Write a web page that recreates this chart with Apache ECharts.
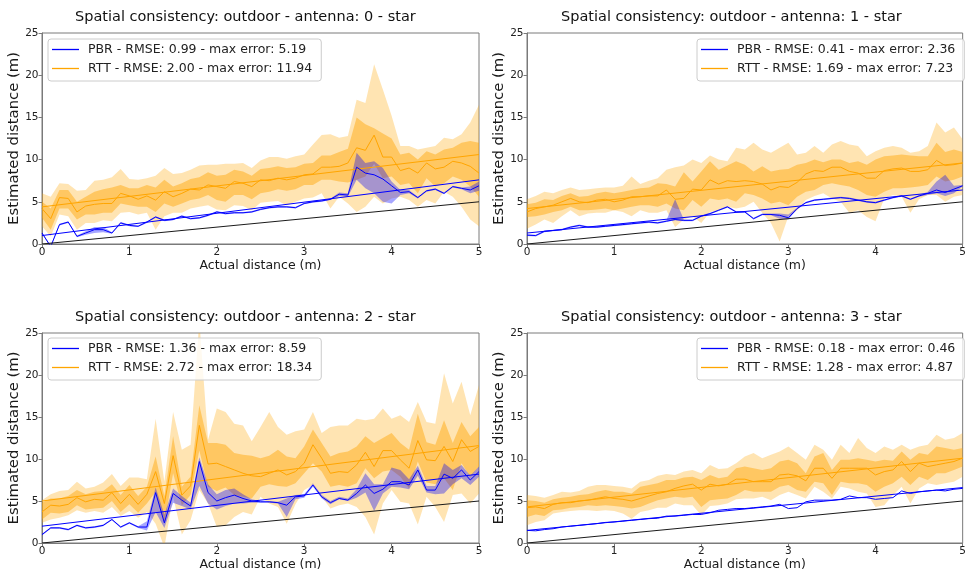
<!DOCTYPE html>
<html>
<head>
<meta charset="utf-8">
<title>Spatial consistency: outdoor - star</title>
<script src="https://cdn.jsdelivr.net/npm/echarts@6/dist/echarts.min.js"></script>
<style>
  html, body { margin: 0; padding: 0; background: #ffffff; }
  #chart { width: 969px; height: 575px; }
</style>
</head>
<body>
<div id="chart"></div>
<script>
// Actual distance of every measurement position (m)
const distances = [0, 0.1, 0.2, 0.3, 0.4, 0.5, 0.6, 0.7, 0.8, 0.9, 1.0, 1.1, 1.2, 1.3, 1.4, 1.5, 1.6, 1.7, 1.8, 1.9,
  2.0, 2.1, 2.2, 2.3, 2.4, 2.5, 2.6, 2.7, 2.8, 2.9, 3.0, 3.1, 3.2, 3.3, 3.4, 3.5, 3.6, 3.7, 3.8, 3.9,
  4.0, 4.1, 4.2, 4.3, 4.4, 4.5, 4.6, 4.7, 4.8, 4.9, 5.0];

const titles = [
  'Spatial consistency: outdoor - antenna: 0 - star',
  'Spatial consistency: outdoor - antenna: 1 - star',
  'Spatial consistency: outdoor - antenna: 2 - star',
  'Spatial consistency: outdoor - antenna: 3 - star'
];
const pbrLabels = [
  'PBR - RMSE: 0.99 - max error: 5.19',
  'PBR - RMSE: 0.41 - max error: 2.36',
  'PBR - RMSE: 1.36 - max error: 8.59',
  'PBR - RMSE: 0.18 - max error: 0.46'
];
const rttLabels = [
  'RTT - RMSE: 2.00 - max error: 11.94',
  'RTT - RMSE: 1.69 - max error: 7.23',
  'RTT - RMSE: 2.72 - max error: 18.34',
  'RTT - RMSE: 1.28 - max error: 4.87'
];
const xTicks = [0, 1, 2, 3, 4, 5];
const yTicks = [0, 5, 10, 15, 20, 25];

// ---- antenna 0 ----
const pbrMean0 = [1.3, -0.3, 2.3, 2.6, 0.9, 1.3, 1.7, 1.7, 1.3, 2.5, 2.2, 2.1, 2.6, 3.2, 2.8, 2.9, 3.3, 3.0, 3.1, 3.4, 3.8, 3.6, 3.7, 3.7, 3.8, 4.1, 4.3, 4.4, 4.4, 4.3, 4.8, 5.0, 5.1, 5.3, 5.9, 5.8, 9.1, 8.4, 8.2, 7.7, 6.9, 6.1, 6.2, 5.5, 6.3, 6.5, 6.0, 6.8, 6.6, 6.4, 6.9];
const pbrLow0 = [1.2, -0.4, 2.2, 2.5, 0.8, 1.1, 1.3, 1.4, 1.2, 2.4, 2.1, 2.0, 2.5, 3.1, 2.7, 2.8, 3.2, 2.9, 3.0, 3.3, 3.7, 3.5, 3.6, 3.6, 3.7, 4.0, 4.2, 4.3, 4.3, 4.2, 4.7, 4.9, 5.0, 5.2, 5.7, 5.6, 7.6, 6.6, 6.0, 5.0, 4.8, 5.8, 6.0, 5.4, 6.2, 6.4, 5.9, 6.7, 6.5, 6.0, 6.3];
const pbrHigh0 = [1.4, -0.2, 2.4, 2.7, 1.0, 1.5, 2.0, 2.0, 1.4, 2.6, 2.3, 2.2, 2.7, 3.3, 2.9, 3.0, 3.4, 3.1, 3.2, 3.5, 3.9, 3.7, 3.8, 3.8, 3.9, 4.2, 4.4, 4.5, 4.5, 4.4, 4.9, 5.1, 5.2, 5.4, 6.1, 6.0, 10.8, 9.6, 9.8, 9.0, 7.4, 6.4, 6.4, 5.6, 6.4, 6.6, 6.1, 6.9, 6.7, 6.8, 7.4];
const rttMean0 = [4.2, 3.0, 5.5, 5.4, 3.8, 4.5, 4.7, 4.8, 4.8, 6.0, 5.7, 5.3, 5.7, 5.2, 6.2, 5.6, 6.0, 6.5, 6.4, 7.0, 6.8, 6.6, 7.4, 7.2, 6.8, 7.6, 7.5, 7.8, 7.6, 7.8, 8.2, 8.3, 9.1, 9.1, 9.2, 9.6, 11.4, 11.1, 12.9, 10.3, 10.3, 8.7, 9.0, 8.4, 9.6, 8.9, 9.1, 9.8, 9.6, 9.2, 8.4];
const rttLow0 = [3.1, 1.7, 4.2, 4.2, 2.9, 3.5, 3.5, 3.7, 3.7, 4.8, 4.6, 4.4, 4.4, 3.8, 4.8, 4.4, 4.8, 5.2, 5.4, 5.8, 5.2, 5.0, 5.8, 5.8, 5.3, 6.0, 6.2, 6.5, 6.3, 6.5, 7.0, 7.0, 7.6, 7.6, 7.4, 7.3, 7.6, 8.0, 9.5, 7.8, 8.0, 7.0, 7.2, 6.0, 7.8, 6.8, 7.2, 8.0, 7.6, 6.8, 5.6];
const rttHigh0 = [5.0, 4.2, 6.4, 6.4, 5.0, 5.6, 6.2, 6.5, 6.7, 7.0, 6.6, 6.6, 7.0, 6.7, 7.6, 6.8, 7.2, 7.7, 7.9, 8.5, 8.1, 8.2, 8.8, 8.6, 8.1, 8.9, 9.0, 9.2, 9.0, 9.1, 9.5, 9.6, 10.5, 10.5, 10.9, 11.3, 15.0, 14.2, 13.7, 13.1, 12.5, 10.6, 10.8, 10.0, 11.0, 10.6, 11.2, 11.4, 12.0, 12.2, 12.0];
const rttMin0 = [2.1, 0.9, 3.5, 3.3, 1.7, 2.5, 2.5, 2.8, 2.7, 3.7, 3.8, 3.5, 3.7, 1.7, 3.3, 3.7, 3.7, 4.2, 4.4, 4.6, 4.1, 4.0, 4.6, 4.5, 4.0, 4.9, 5.0, 5.1, 4.6, 5.0, 5.4, 5.5, 6.0, 4.2, 5.6, 4.8, 3.8, 4.4, 5.6, 4.8, 5.4, 5.6, 5.2, 4.4, 5.2, 4.8, 6.2, 5.6, 4.4, 2.9, 2.1];
const rttMax0 = [6.0, 5.6, 7.2, 7.1, 6.3, 6.4, 7.5, 7.6, 7.9, 8.9, 7.7, 7.6, 7.8, 8.1, 9.0, 8.3, 8.4, 8.8, 9.3, 9.4, 9.4, 9.5, 9.5, 9.6, 9.0, 9.9, 10.3, 10.3, 10.1, 10.4, 10.6, 11.8, 12.9, 13.0, 12.6, 12.8, 17.1, 16.7, 21.3, 18.3, 15.2, 11.6, 11.6, 11.2, 11.4, 11.6, 12.6, 12.4, 13.0, 14.4, 16.5];
const pbrFit0 = [1.0, 7.6];
const rttFit0 = [4.4, 10.6];

// ---- antenna 1 ----
const pbrMean1 = [1.05, 1.0, 1.5, 1.6, 1.7, 2.0, 2.2, 2.0, 2.0, 2.1, 2.2, 2.3, 2.4, 2.5, 2.6, 2.5, 2.7, 2.9, 2.8, 2.8, 3.3, 3.6, 4.0, 4.4, 3.8, 3.8, 3.0, 3.5, 3.5, 3.4, 3.1, 4.2, 4.9, 5.2, 5.3, 5.4, 5.5, 5.4, 5.2, 5.0, 4.9, 5.2, 5.5, 5.7, 5.3, 5.7, 6.0, 6.4, 6.1, 6.5, 6.9];
const pbrLow1 = [0.95, 0.9, 1.4, 1.5, 1.6, 1.9, 2.1, 1.9, 1.9, 2.0, 2.1, 2.2, 2.3, 2.4, 2.5, 2.4, 2.6, 2.8, 2.7, 2.7, 3.2, 3.5, 3.9, 4.3, 3.7, 3.7, 2.9, 3.4, 3.4, 3.0, 2.9, 4.1, 4.8, 5.1, 5.2, 5.3, 5.4, 5.3, 5.1, 4.9, 4.8, 5.1, 5.4, 5.6, 5.2, 5.6, 5.8, 6.0, 5.7, 6.0, 6.8];
const pbrHigh1 = [1.15, 1.1, 1.6, 1.7, 1.8, 2.1, 2.3, 2.1, 2.1, 2.2, 2.3, 2.4, 2.5, 2.6, 2.7, 2.6, 2.8, 5.3, 2.9, 2.9, 3.4, 3.7, 4.1, 4.5, 3.9, 3.9, 3.1, 3.6, 3.6, 3.6, 3.5, 4.3, 5.0, 5.3, 5.4, 5.5, 5.6, 5.5, 5.3, 5.1, 5.0, 5.3, 5.6, 5.8, 5.4, 5.8, 6.2, 7.4, 8.2, 6.9, 7.0];
const rttMean1 = [3.8, 4.2, 4.4, 4.6, 5.0, 5.4, 5.0, 4.9, 5.2, 5.3, 5.0, 5.2, 5.6, 5.6, 5.7, 5.7, 6.4, 5.3, 5.4, 6.5, 6.4, 7.6, 7.1, 7.5, 7.4, 7.5, 7.4, 7.1, 6.4, 6.8, 6.7, 7.3, 8.3, 8.7, 8.6, 9.1, 9.1, 8.6, 8.4, 7.8, 7.8, 8.7, 8.9, 9.0, 8.6, 8.6, 8.8, 9.9, 9.3, 9.4, 9.6];
const rttLow1 = [3.2, 3.3, 3.5, 3.8, 4.0, 4.4, 4.0, 4.0, 4.1, 4.2, 4.0, 4.2, 4.4, 4.6, 4.6, 4.4, 4.8, 4.2, 4.0, 5.2, 4.4, 5.4, 5.2, 5.4, 5.0, 6.0, 5.8, 5.4, 4.8, 5.0, 4.6, 5.6, 6.2, 6.4, 7.0, 7.2, 7.0, 6.8, 6.4, 5.8, 5.6, 6.2, 6.6, 6.6, 6.7, 6.8, 7.0, 8.0, 7.4, 7.6, 8.0];
const rttHigh1 = [4.7, 4.9, 5.3, 5.2, 5.7, 6.0, 5.6, 5.7, 6.0, 6.2, 6.0, 6.2, 6.4, 6.6, 6.7, 7.2, 7.1, 6.8, 8.5, 7.4, 8.6, 9.8, 8.8, 9.3, 9.8, 9.4, 8.6, 9.2, 8.6, 8.8, 8.9, 9.4, 9.6, 10.0, 9.7, 10.0, 10.0, 9.6, 9.8, 9.4, 10.0, 10.4, 10.5, 10.6, 10.5, 10.4, 10.4, 12.0, 10.9, 11.2, 10.9];
const rttMin1 = [1.8, 2.3, 2.9, 2.5, 3.3, 4.0, 3.3, 3.6, 3.7, 3.7, 4.0, 3.8, 3.3, 4.0, 3.7, 3.7, 4.0, 2.0, 2.9, 3.3, 2.5, 3.8, 4.0, 4.4, 4.2, 4.4, 5.0, 3.7, 2.5, 0.3, 3.3, 4.0, 5.2, 5.7, 6.0, 5.4, 5.0, 3.7, 4.0, 3.2, 2.7, 5.4, 5.8, 5.6, 3.7, 5.3, 5.8, 5.8, 5.0, 5.6, 5.8];
const rttMax1 = [5.3, 5.7, 6.2, 6.0, 6.4, 6.7, 6.4, 6.5, 6.6, 6.7, 6.7, 6.9, 8.0, 7.1, 7.5, 7.8, 8.8, 9.1, 9.3, 10.0, 9.6, 10.5, 10.0, 9.8, 11.4, 11.2, 12.0, 11.2, 10.8, 11.4, 12.0, 10.6, 10.8, 11.6, 10.8, 11.8, 12.2, 11.8, 11.6, 10.4, 11.0, 11.4, 11.6, 11.4, 10.8, 11.0, 11.6, 14.4, 13.2, 13.8, 12.4];
const pbrFit1 = [1.3, 6.4];
const rttFit1 = [4.2, 9.6];

// ---- antenna 2 ----
const pbrMean2 = [1.0, 1.8, 1.8, 1.6, 2.1, 1.8, 1.9, 2.1, 2.8, 1.9, 2.4, 1.9, 1.9, 6.0, 2.4, 5.9, 5.1, 4.4, 9.7, 6.0, 5.0, 5.4, 5.7, 5.3, 5.0, 4.9, 4.9, 4.8, 4.5, 5.5, 5.6, 6.9, 5.5, 4.8, 5.3, 5.1, 5.9, 6.9, 5.9, 6.4, 7.3, 7.3, 6.9, 8.7, 6.3, 6.3, 8.2, 7.7, 8.7, 7.5, 8.5];
const pbrLow2 = [0.9, 1.7, 1.7, 1.5, 2.0, 1.7, 1.8, 2.0, 2.7, 1.8, 2.3, 1.8, 1.5, 3.7, 1.8, 4.8, 4.4, 4.0, 6.8, 4.7, 4.0, 4.4, 4.7, 4.7, 4.8, 4.8, 4.8, 4.7, 3.1, 5.2, 5.4, 6.7, 5.3, 4.6, 5.2, 5.0, 5.4, 6.0, 3.8, 5.9, 6.7, 6.6, 6.4, 8.0, 6.0, 5.8, 5.9, 7.0, 7.7, 6.9, 7.9];
const pbrHigh2 = [1.1, 1.9, 1.9, 1.7, 2.2, 1.9, 2.0, 2.2, 2.9, 2.0, 2.5, 2.0, 2.6, 6.6, 3.4, 6.5, 5.6, 4.8, 10.2, 7.0, 5.8, 6.3, 6.5, 5.8, 5.2, 5.0, 5.0, 4.9, 5.3, 5.7, 5.8, 7.1, 5.7, 5.0, 5.5, 5.3, 6.4, 8.3, 7.0, 7.0, 9.0, 8.7, 7.6, 9.2, 6.8, 6.8, 9.5, 8.7, 9.3, 8.0, 9.1];
const rttMean2 = [3.7, 4.5, 4.4, 4.6, 5.4, 4.9, 5.2, 5.1, 6.0, 4.7, 5.8, 4.6, 5.8, 8.5, 4.7, 10.4, 5.7, 6.8, 14.0, 9.4, 9.5, 9.1, 8.7, 8.3, 8.0, 7.9, 8.3, 8.7, 8.1, 8.5, 9.5, 11.7, 10.1, 8.3, 8.5, 8.4, 9.3, 10.8, 9.1, 11.0, 11.0, 9.9, 8.9, 12.2, 9.9, 9.8, 11.5, 9.7, 12.3, 10.9, 11.5];
const rttLow2 = [2.8, 3.6, 3.5, 3.7, 4.5, 4.0, 4.1, 4.2, 5.0, 3.7, 4.6, 3.6, 4.7, 6.1, 2.3, 8.3, 4.5, 5.7, 11.0, 6.7, 6.2, 6.6, 5.7, 5.5, 5.3, 6.7, 7.0, 6.8, 6.7, 7.1, 8.3, 9.5, 8.5, 6.7, 6.9, 6.7, 7.1, 8.9, 7.7, 8.5, 8.7, 7.9, 6.5, 9.7, 7.2, 7.0, 7.7, 6.3, 9.5, 7.9, 9.1];
const rttHigh2 = [4.8, 5.3, 5.3, 5.6, 6.3, 5.8, 6.1, 6.2, 7.0, 5.7, 6.9, 5.6, 6.7, 10.3, 5.6, 12.7, 6.7, 7.9, 16.4, 11.9, 11.9, 11.7, 10.7, 10.5, 10.4, 10.1, 10.4, 11.1, 10.3, 10.1, 11.5, 13.5, 11.9, 10.3, 10.7, 10.9, 11.5, 12.7, 11.9, 12.5, 13.1, 11.9, 11.1, 15.4, 12.0, 11.7, 14.6, 11.9, 14.4, 12.7, 13.8];
const rttMin2 = [2.4, 2.8, 3.0, 3.3, 3.9, 3.6, 3.8, 3.6, 4.3, 3.2, 3.8, 3.0, 3.7, 2.3, -0.5, 5.5, 1.0, 2.7, 6.3, 4.7, 1.9, 2.1, 3.1, 3.7, 3.4, 5.5, 4.7, 4.3, 2.3, 4.6, 6.3, 6.9, 5.5, 4.1, 4.5, 4.7, 4.3, 3.1, 1.0, 4.7, 6.3, 4.9, 4.7, 2.2, 5.5, 4.3, 2.5, 5.7, 5.9, 4.7, 5.9];
const rttMax2 = [5.1, 5.8, 6.2, 6.3, 7.3, 6.5, 6.7, 7.2, 8.2, 6.8, 7.8, 7.8, 7.6, 14.8, 7.3, 15.6, 11.1, 11.7, 26.5, 12.3, 16.0, 15.6, 14.2, 14.0, 12.1, 13.8, 15.6, 13.8, 12.9, 13.3, 13.5, 15.6, 13.1, 13.8, 14.0, 14.0, 14.8, 14.6, 14.8, 16.0, 14.8, 15.2, 14.4, 16.8, 14.4, 14.2, 20.2, 16.6, 19.2, 15.2, 18.8];
const pbrFit2 = [2.0, 8.2];
const rttFit2 = [5.0, 11.6];

// ---- antenna 3 ----
const pbrMean3 = [1.5, 1.45, 1.6, 1.7, 1.9, 2.0, 2.1, 2.2, 2.3, 2.45, 2.5, 2.6, 2.7, 2.8, 2.9, 2.95, 3.2, 3.2, 3.3, 3.4, 3.4, 3.6, 3.9, 4.0, 4.1, 4.1, 4.2, 4.3, 4.4, 4.6, 4.1, 4.2, 4.9, 5.1, 5.1, 5.1, 5.2, 5.6, 5.4, 5.4, 5.2, 5.3, 5.4, 6.2, 5.9, 6.1, 6.2, 6.3, 6.2, 6.4, 6.5];
const rttMean3 = [4.2, 4.3, 4.1, 4.6, 4.8, 4.8, 5.0, 5.1, 5.3, 5.5, 5.3, 5.2, 5.0, 5.3, 5.6, 5.9, 6.1, 6.5, 6.8, 7.0, 6.3, 7.0, 6.8, 7.0, 7.6, 7.6, 7.3, 7.3, 7.3, 8.1, 8.2, 8.0, 7.4, 8.9, 8.9, 7.7, 8.9, 8.9, 8.9, 8.9, 8.1, 8.5, 8.7, 9.7, 8.5, 9.5, 9.1, 9.3, 9.5, 9.7, 10.1];
const rttLow3 = [3.1, 3.4, 3.2, 3.9, 4.0, 4.2, 4.3, 4.5, 4.4, 4.5, 4.4, 4.3, 4.1, 4.3, 4.7, 5.1, 5.3, 5.5, 5.4, 5.5, 4.3, 5.1, 5.2, 5.3, 5.7, 6.3, 6.1, 6.1, 6.1, 6.7, 6.9, 6.3, 6.1, 7.3, 7.1, 5.7, 7.3, 7.1, 7.1, 6.9, 6.1, 6.7, 7.1, 7.9, 6.9, 7.9, 7.5, 8.3, 8.3, 8.7, 9.1];
const rttHigh3 = [5.1, 5.0, 4.8, 5.2, 5.4, 5.5, 5.7, 5.8, 6.1, 6.3, 6.1, 6.1, 5.9, 6.7, 6.9, 7.1, 7.5, 7.5, 7.8, 7.9, 7.5, 8.1, 7.7, 7.9, 8.9, 9.1, 8.9, 8.7, 8.9, 9.7, 9.9, 9.5, 8.3, 10.3, 10.7, 8.7, 9.9, 9.9, 10.1, 9.9, 9.7, 9.9, 9.8, 10.9, 9.9, 10.7, 10.5, 11.5, 11.3, 11.1, 11.3];
const rttMin3 = [2.1, 2.5, 2.7, 3.5, 3.7, 3.8, 3.9, 3.9, 3.8, 3.9, 3.8, 3.5, 2.9, 3.7, 3.9, 4.2, 4.2, 4.7, 4.5, 4.5, 3.3, 4.4, 4.5, 4.7, 5.2, 5.3, 5.3, 5.5, 5.1, 5.7, 6.1, 5.7, 5.3, 6.7, 6.1, 5.3, 6.7, 6.5, 6.1, 5.9, 4.3, 4.5, 5.7, 6.7, 4.7, 6.5, 7.1, 6.9, 7.1, 7.3, 7.9];
const rttMax3 = [5.7, 5.6, 5.4, 5.7, 6.1, 6.0, 6.2, 6.7, 6.9, 6.9, 6.8, 6.7, 6.5, 7.3, 7.5, 8.0, 8.2, 8.1, 8.5, 8.7, 8.3, 9.3, 8.8, 8.9, 9.5, 10.3, 10.7, 10.1, 10.5, 10.9, 11.5, 10.7, 9.9, 11.7, 11.1, 9.9, 11.7, 10.7, 12.5, 11.3, 10.7, 11.5, 11.1, 11.7, 11.1, 11.5, 11.7, 12.9, 12.3, 12.5, 13.1];
const pbrFit3 = [1.5, 6.6];
const rttFit3 = [4.3, 10.1];

// Which arrays belong to which subplot
const panelData = [
  { pbr: pbrMean0, pbrLo: pbrLow0, pbrHi: pbrHigh0, rtt: rttMean0, rttLo: rttLow0, rttHi: rttHigh0, rttMin: rttMin0, rttMax: rttMax0, pbrFit: pbrFit0, rttFit: rttFit0 },
  { pbr: pbrMean1, pbrLo: pbrLow1, pbrHi: pbrHigh1, rtt: rttMean1, rttLo: rttLow1, rttHi: rttHigh1, rttMin: rttMin1, rttMax: rttMax1, pbrFit: pbrFit1, rttFit: rttFit1 },
  { pbr: pbrMean2, pbrLo: pbrLow2, pbrHi: pbrHigh2, rtt: rttMean2, rttLo: rttLow2, rttHi: rttHigh2, rttMin: rttMin2, rttMax: rttMax2, pbrFit: pbrFit2, rttFit: rttFit2 },
  { pbr: pbrMean3, pbrLo: null, pbrHi: null, rtt: rttMean3, rttLo: rttLow3, rttHi: rttHigh3, rttMin: rttMin3, rttMax: rttMax3, pbrFit: pbrFit3, rttFit: rttFit3 }
];

// Page layout of the 2x2 subplots (pixels)
const layout = [
  { grid: { left: 42, top: 33, width: 437, height: 211 }, title: { left: 75, top: 8 }, legend: { left: 48, top: 39 } },
  { grid: { left: 527, top: 33, width: 437, height: 211 }, title: { left: 561, top: 8 }, legend: { left: 697, top: 39 } },
  { grid: { left: 42, top: 333, width: 437, height: 210 }, title: { left: 75, top: 308 }, legend: { left: 48, top: 338 } },
  { grid: { left: 527, top: 333, width: 437, height: 210 }, title: { left: 561, top: 308 }, legend: { left: 697, top: 338 } }
];

const FONT = "'DejaVu Sans', sans-serif";
const BLUE = '#0000ff';
const ORANGE = '#ffa500';
const OUTER_FILL = 'rgba(255,165,0,0.30)';
const INNER_FILL = 'rgba(255,165,0,0.45)';
const PBR_FILL = 'rgba(0,0,255,0.35)';
const SPINE = '#7a7a7a';

// A filled band between two curves, drawn as one clipped polygon in data coordinates
function bandSeries(k, lo, hi, fill, z) {
  const rows = distances.map((d, i) => [d, lo[i], hi[i]]);
  return {
    type: 'custom',
    xAxisIndex: k,
    yAxisIndex: k,
    silent: true,
    z: z,
    encode: { x: 0, y: [1, 2] },
    data: rows,
    renderItem: function (params, api) {
      if (params.dataIndex !== 0) return null;
      const upper = [];
      const lower = [];
      for (let i = 0; i < rows.length; i++) {
        upper.push(api.coord([rows[i][0], rows[i][2]]));
        lower.push(api.coord([rows[i][0], rows[i][1]]));
      }
      const cs = params.coordSys;
      return {
        type: 'group',
        clipPath: { type: 'rect', shape: { x: cs.x, y: cs.y, width: cs.width, height: cs.height } },
        children: [{
          type: 'polygon',
          shape: { points: upper.concat(lower.reverse()) },
          style: { fill: fill, stroke: null }
        }]
      };
    }
  };
}

function lineSeries(k, name, points, color, z) {
  const s = {
    type: 'line',
    xAxisIndex: k,
    yAxisIndex: k,
    data: points,
    showSymbol: false,
    symbol: 'none',
    silent: true,
    z: z,
    color: color,
    itemStyle: { color: color },
    lineStyle: { color: color, width: 1 }
  };
  if (name) s.name = name;
  return s;
}

const grids = [], xAxes = [], yAxes = [], titleList = [], legends = [], series = [];
const first = distances[0], last = distances[distances.length - 1];

panelData.forEach((p, k) => {
  const L = layout[k];
  grids.push(Object.assign({ show: true, borderColor: SPINE, borderWidth: 1, backgroundColor: 'transparent' }, L.grid));

  xAxes.push({
    gridIndex: k, type: 'value', min: xTicks[0], max: xTicks[xTicks.length - 1], interval: 1,
    name: 'Actual distance (m)', nameLocation: 'middle', nameGap: 14,
    nameTextStyle: { fontFamily: FONT, fontSize: 12.5, color: '#1a1a1a' },
    axisLine: { show: true, onZero: false, lineStyle: { color: SPINE, width: 1 } },
    axisTick: { show: true, inside: false, length: 3.5, lineStyle: { color: SPINE } },
    axisLabel: { fontFamily: FONT, fontSize: 10.5, color: '#222', margin: 3, showMinLabel: true, showMaxLabel: true },
    splitLine: { show: false }
  });
  yAxes.push({
    gridIndex: k, type: 'value', min: yTicks[0], max: yTicks[yTicks.length - 1], interval: 5,
    name: 'Estimated distance (m)', nameLocation: 'middle', nameGap: 17,
    nameTextStyle: { fontFamily: FONT, fontSize: 14.8, color: '#1a1a1a' },
    axisLine: { show: true, onZero: false, lineStyle: { color: SPINE, width: 1 } },
    axisTick: { show: true, inside: false, length: 3.5, lineStyle: { color: SPINE } },
    axisLabel: { fontFamily: FONT, fontSize: 10.5, color: '#222', margin: 3.5, showMinLabel: true, showMaxLabel: true },
    splitLine: { show: false }
  });

  titleList.push({
    text: titles[k], left: L.title.left, top: L.title.top, padding: 0,
    textStyle: { fontFamily: FONT, fontSize: 14.5, fontWeight: 'normal', color: '#111', lineHeight: 18 }
  });

  legends.push({
    orient: 'vertical', left: L.legend.left, top: L.legend.top,
    data: [pbrLabels[k], rttLabels[k]],
    icon: 'rect', itemWidth: 27, itemHeight: 1.3, itemGap: 4,
    padding: [3, 9, 5, 4],
    backgroundColor: 'rgba(255,255,255,0.8)', borderColor: '#cccccc', borderWidth: 1, borderRadius: 3,
    itemStyle: { borderWidth: 0 },
    textStyle: { fontFamily: FONT, fontSize: 12.5, color: '#222', lineHeight: 15, padding: [0, 0, 0, 4] },
    selectedMode: false
  });

  // RTT spread (min-max) and inner band, then PBR band on top
  series.push(bandSeries(k, p.rttMin, p.rttMax, OUTER_FILL, 1));
  series.push(bandSeries(k, p.rttLo, p.rttHi, INNER_FILL, 2));
  if (p.pbrLo) series.push(bandSeries(k, p.pbrLo, p.pbrHi, PBR_FILL, 3));

  // Mean estimates
  series.push(lineSeries(k, pbrLabels[k], distances.map((d, i) => [d, p.pbr[i]]), BLUE, 6));
  series.push(lineSeries(k, rttLabels[k], distances.map((d, i) => [d, p.rtt[i]]), ORANGE, 5));
  // Linear fits
  series.push(lineSeries(k, null, [[first, p.pbrFit[0]], [last, p.pbrFit[1]]], BLUE, 6));
  series.push(lineSeries(k, null, [[first, p.rttFit[0]], [last, p.rttFit[1]]], ORANGE, 5));
  // Ground truth (estimated = actual)
  series.push(lineSeries(k, null, [[first, first], [last, last]], '#1a1a1a', 7));
});

const chart = echarts.init(document.getElementById('chart'), null, { renderer: 'canvas' });
chart.setOption({
  animation: false,
  backgroundColor: '#ffffff',
  title: titleList,
  legend: legends,
  grid: grids,
  xAxis: xAxes,
  yAxis: yAxes,
  tooltip: { show: false },
  series: series
});
</script>
</body>
</html>
